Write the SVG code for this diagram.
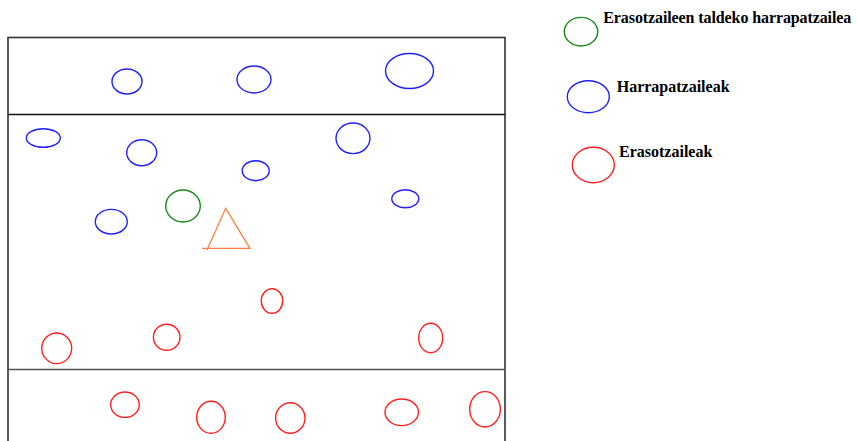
<svg xmlns="http://www.w3.org/2000/svg" width="858" height="441" viewBox="0 0 858 441">
<style>
.b{fill:none;stroke:#2020ff;stroke-width:1.4}
.r{fill:none;stroke:#ff2020;stroke-width:1.4}
.g{fill:none;stroke:#1a8a1a;stroke-width:1.4}
.lbl{font-family:"Liberation Serif","Times New Roman",serif;font-weight:bold;font-size:16px;fill:#000}
</style>
<rect width="858" height="441" fill="#fff"/>
<g id="field">
<rect x="8" y="37.5" width="497" height="420" fill="none" stroke="#333" stroke-width="1.6"/>
<line x1="8" y1="114.5" x2="505" y2="114.5" stroke="#111" stroke-width="1.6"/>
<line x1="8" y1="369.5" x2="505" y2="369.5" stroke="#555" stroke-width="1.6"/>
</g>
<g id="blue">
<ellipse class="b" cx="127" cy="81.5" rx="15" ry="12.5"/>
<ellipse class="b" cx="254" cy="79.5" rx="17" ry="13.5"/>
<ellipse class="b" cx="409.5" cy="71" rx="24" ry="17.5"/>
<ellipse class="b" cx="43.3" cy="138" rx="17" ry="9.3"/>
<ellipse class="b" cx="141.7" cy="152.7" rx="15" ry="13"/>
<ellipse class="b" cx="255.7" cy="170.7" rx="13.5" ry="10"/>
<ellipse class="b" cx="353" cy="138.3" rx="17" ry="15.3"/>
<ellipse class="b" cx="405.3" cy="198.7" rx="13.5" ry="9"/>
<ellipse class="b" cx="111.3" cy="221.7" rx="16" ry="12.3"/>
</g>
<g id="green">
<ellipse class="g" cx="183" cy="206" rx="17.3" ry="16"/>
</g>
<g id="ball">
<path d="M202,248.3 H250 L225.7,208.3 L207,250" fill="none" stroke="#ff8040" stroke-width="1.3"/>
</g>
<g id="red">
<ellipse class="r" cx="56.7" cy="348.3" rx="15" ry="15.3"/>
<ellipse class="r" cx="166.7" cy="337.3" rx="13.3" ry="13"/>
<ellipse class="r" cx="272" cy="301" rx="10.7" ry="12.3"/>
<ellipse class="r" cx="430.7" cy="338" rx="12" ry="14.7"/>
<ellipse class="r" cx="125" cy="404.7" rx="14.3" ry="12.7"/>
<ellipse class="r" cx="211" cy="417.3" rx="14.3" ry="16"/>
<ellipse class="r" cx="290.3" cy="418" rx="14.7" ry="15.3"/>
<ellipse class="r" cx="401.7" cy="412.3" rx="16.7" ry="13.3"/>
<ellipse class="r" cx="485" cy="409.3" rx="15.3" ry="17.7"/>
</g>
<g id="legend-green">
<ellipse class="g" cx="581" cy="31.7" rx="16.7" ry="14.3"/>
<text class="lbl" x="603.3" y="23.3" textLength="248" lengthAdjust="spacing">Erasotzaileen taldeko harrapatzailea</text>
</g>
<g id="legend-blue">
<ellipse class="b" cx="588.3" cy="96.7" rx="21" ry="16"/>
<text class="lbl" x="616.7" y="91.7">Harrapatzaileak</text>
</g>
<g id="legend-red">
<ellipse class="r" cx="593.3" cy="165" rx="21" ry="17.7"/>
<text class="lbl" x="619" y="156.7">Erasotzaileak</text>
</g>
<g id="connectors"></g>
</svg>
